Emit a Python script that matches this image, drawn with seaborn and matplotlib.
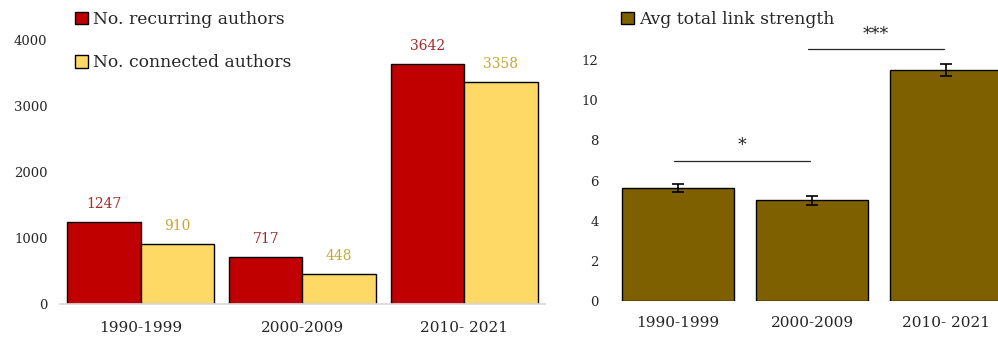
import matplotlib
matplotlib.use("Agg")
import matplotlib.pyplot as plt
import seaborn as sns
import pandas as pd
from matplotlib.patches import Patch

# ---- data ----
periods = ["1990-1999", "2000-2009", "2010- 2021"]
recurring = [1247, 717, 3642]
connected = [910, 448, 3358]
series_names = ["No. recurring authors", "No. connected authors"]
link_strength = [5.64, 5.02, 11.52]
link_err = [0.2, 0.23, 0.3]
link_name = "Avg total link strength"
sig_pairs = [(0, 1), (1, 2)]
sig_heights = [7.0, 12.55]
sig_labels = ["*", "***"]

# ---- styles ----
RED = "#C00000"
YEL = "#FFD966"
GOLD = "#7F6000"
RED_TXT = "#A52A2A"
YEL_TXT = "#C9A53A"
TXT = "#262626"

sns.set_theme(style="white")
plt.rcParams["font.family"] = ["DejaVu Serif"]

fig = plt.figure(figsize=(9.98, 3.38), dpi=100)
W, H = 998, 338

def ax_at(x0, y0, x1, y1):
    return fig.add_axes([x0 / W, 1 - y1 / H, (x1 - x0) / W, (y1 - y0) / H])

# ---- left chart ----
ax1 = ax_at(60, 40, 545, 304)
df1 = pd.DataFrame({
    "period": periods * 2,
    "value": recurring + connected,
    "series": [series_names[0]] * 3 + [series_names[1]] * 3,
})
sns.barplot(data=df1, x="period", y="value", hue="series", order=periods,
            hue_order=series_names, palette=[RED, YEL], saturation=1,
            width=0.91, gap=0, edgecolor="black", linewidth=1.0, ax=ax1,
            legend=False)
ax1.set_ylim(0, 4000)
ax1.set_xlim(-0.5, 2.5)
ax1.set_yticks([0, 1000, 2000, 3000, 4000])
ax1.set_xlabel("")
ax1.set_ylabel("")
for c, col in zip(ax1.containers, [RED_TXT, YEL_TXT]):
    ax1.bar_label(c, labels=[f"{int(v)}" for v in c.datavalues], padding=8,
                  color=col, fontsize=10)
for s in ["left", "right", "top"]:
    ax1.spines[s].set_visible(False)
ax1.spines["bottom"].set_color("#D9D9D9")
ax1.tick_params(axis="y", length=0, labelsize=9.5, colors=TXT, pad=9)
ax1.tick_params(axis="x", length=0, labelsize=11, colors=TXT, pad=12)
ax1.legend(handles=[Patch(facecolor=RED, edgecolor="black", label=series_names[0]),
                    Patch(facecolor=YEL, edgecolor="black", label=series_names[1])],
           loc="upper left", bbox_to_anchor=(75 / W, 1 - 11 / H),
           bbox_transform=fig.transFigure, frameon=False, fontsize=12.3,
           handlelength=0.75, handleheight=0.75, handletextpad=0.3,
           labelspacing=1.55, borderpad=0, borderaxespad=0, labelcolor=TXT)

# ---- right chart ----
ax2 = ax_at(611, 20, 1013, 301)
df2 = pd.DataFrame({"period": periods, "value": link_strength})
sns.barplot(data=df2, x="period", y="value", order=periods, color=GOLD,
            saturation=1, width=0.836, edgecolor="black", linewidth=1.0, ax=ax2)
ax2.errorbar(range(len(periods)), link_strength, yerr=link_err, fmt="none",
             ecolor="black", elinewidth=1.2, capsize=4, capthick=1.2)
ax2.set_ylim(0, 14)
ax2.set_xlim(-0.5, 2.5)
ax2.set_yticks([0, 2, 4, 6, 8, 10, 12])
ax2.set_xlabel("")
ax2.set_ylabel("")
for s in ["left", "right", "top", "bottom"]:
    ax2.spines[s].set_visible(False)
ax2.tick_params(axis="y", length=0, labelsize=9.5, colors=TXT, pad=9)
ax2.tick_params(axis="x", length=0, labelsize=11, colors=TXT, pad=11)
for (a, b), h, lab in zip(sig_pairs, sig_heights, sig_labels):
    x0, x1 = a - 0.03, b - 0.015
    ax2.plot([x0, x1], [h, h], color=TXT, lw=0.9)
    ax2.text((x0 + x1) / 2, h + 0.3, lab, ha="center", va="bottom",
             fontsize=12.5, color=TXT)
ax2.legend(handles=[Patch(facecolor=GOLD, edgecolor="black", label=link_name)],
           loc="upper left", bbox_to_anchor=(621 / W, 1 - 11 / H),
           bbox_transform=fig.transFigure, frameon=False, fontsize=12.3,
           handlelength=0.75, handleheight=0.75, handletextpad=0.3,
           borderpad=0, borderaxespad=0, labelcolor=TXT)

fig.savefig("out.png", dpi=100)
